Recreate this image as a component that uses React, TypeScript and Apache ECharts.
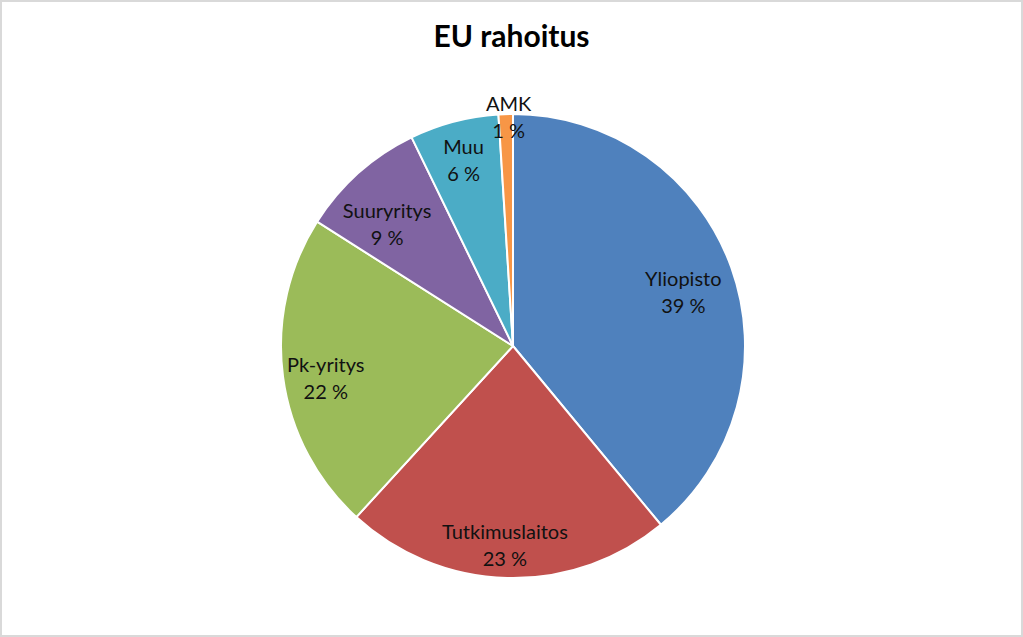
import React, { useEffect, useRef } from 'react'
import * as echarts from 'echarts'

const categories = ['Yliopisto', 'Tutkimuslaitos', 'Pk-yritys', 'Suuryritys', 'Muu', 'AMK']
const shares = [39.0, 22.8, 22.2, 8.8, 6.2, 1.0]
const colors = ['#4F81BD', '#C0504D', '#9BBB59', '#8064A2', '#4BACC6', '#F79646']

// how far out each label sits (radius of an invisible helper pie, label at half of it)
const labelRings: { radius: number; names: string[] }[] = [
  { radius: 356, names: ['Yliopisto'] },
  { radius: 372, names: ['Suuryritys'] },
  { radius: 398, names: ['Tutkimuslaitos', 'Pk-yritys', 'Muu'] },
  { radius: 460, names: ['AMK'] },
]
// small hand nudges, Excel's best-fit placement is not exactly on the mid angle
const labelNudge: Record<string, [number, number]> = {
  Yliopisto: [0, 7],
  Tutkimuslaitos: [-3, -3],
  'Pk-yritys': [13, 5],
  Suuryritys: [0, 18],
  Muu: [2, 9],
  AMK: [3, 3],
}

const FONT = 'Lato, "Open Sans", sans-serif'
const CENTER = [513, 346]
const RADIUS = 232

const App: React.FC = () => {
  const chartRef = useRef<HTMLDivElement>(null)

  useEffect(() => {
    if (!chartRef.current) return
    const chart = echarts.init(chartRef.current, undefined, { renderer: 'svg' })

    const fmt = (p: any) => `${p.name}\n${Math.round(p.percent)} %`

    // transparent pies only used to push the labels further out
    const ghosts = labelRings.map(ring => ({
      type: 'pie',
      center: CENTER,
      radius: [0, ring.radius],
      startAngle: 90,
      clockwise: true,
      silent: true,
      avoidLabelOverlap: false,
      itemStyle: { color: 'rgba(0,0,0,0)', borderWidth: 0 },
      emphasis: { disabled: true },
      labelLine: { show: false },
      labelLayout: (p: any) => {
        const n = labelNudge[categories[p.dataIndex]]
        return n ? { dx: n[0], dy: n[1] } : {}
      },
      data: categories.map((name, i) => ({
        name,
        value: shares[i],
        label: {
          show: ring.names.includes(name),
          position: 'inside',
          formatter: fmt,
          fontFamily: FONT,
          fontSize: 20,
          lineHeight: 27,
          color: '#111',
        },
      })),
    }))

    const option: echarts.EChartsOption = {
      animation: false,
      title: {
        text: 'EU rahoitus',
        left: 'center',
        top: 15,
        textStyle: {
          fontFamily: FONT,
          fontSize: 30,
          fontWeight: 'bold',
          color: '#000',
        },
      },
      series: [
        {
          type: 'pie',
          center: CENTER,
          radius: [0, RADIUS],
          startAngle: 90,
          clockwise: true,
          silent: true,
          label: { show: false },
          labelLine: { show: false },
          itemStyle: { borderColor: '#fff', borderWidth: 2 },
          data: categories.map((name, i) => ({
            name,
            value: shares[i],
            itemStyle: { color: colors[i] },
          })),
        },
        ...ghosts,
      ] as any,
    }

    chart.setOption(option)

    const handleResize = () => chart.resize()
    window.addEventListener('resize', handleResize)
    return () => {
      window.removeEventListener('resize', handleResize)
      chart.dispose()
    }
  }, [])

  return (
    <div
      style={{
        position: 'fixed',
        left: 0,
        top: 0,
        width: 1023,
        height: 637,
        boxSizing: 'border-box',
        border: '2px solid #d9d9d9',
        background: '#fff',
      }}
    >
      <div ref={chartRef} style={{ position: 'absolute', left: -2, top: -2, width: 1023, height: 637 }} />
    </div>
  )
}

export default App
